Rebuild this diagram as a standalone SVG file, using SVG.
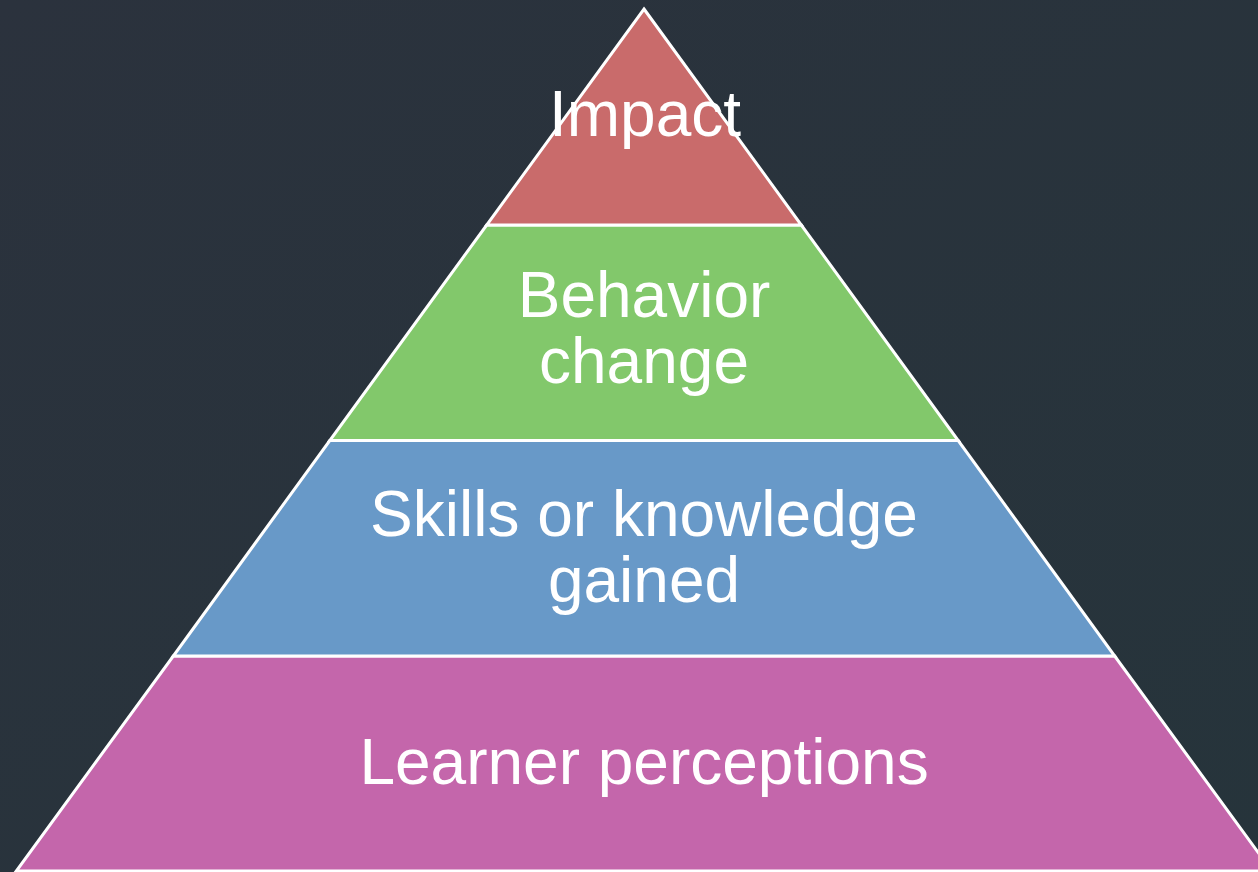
<svg xmlns="http://www.w3.org/2000/svg" width="1258" height="872" viewBox="0 0 1258 872">
  <defs>
    <linearGradient id="bg" x1="0" y1="0" x2="1" y2="1">
      <stop offset="0" stop-color="#2b323d"/>
      <stop offset="1" stop-color="#26343b"/>
    </linearGradient>
  </defs>
  <style>
    .layer { stroke: #ffffff; stroke-width: 3; stroke-linejoin: miter; }
    .lbl { font-family: "Liberation Sans", Arial, sans-serif; font-size: 64px; fill: #ffffff; text-anchor: middle; }
  </style>
  <rect x="0" y="0" width="1258" height="872" fill="url(#bg)"/>
  <g id="layer-learner">
    <polygon class="layer" fill="#c466ab" points="173.3,656 1114.7,656 1271.7,871 16.3,871"/>
    <text class="lbl" x="644" y="784">Learner perceptions</text>
  </g>
  <g id="layer-skills">
    <polygon class="layer" fill="#6899c8" points="329.8,440.5 958.2,440.5 1114.7,656 173.3,656"/>
    <text class="lbl" x="644" y="536">Skills or knowledge</text>
    <text class="lbl" x="644" y="602">gained</text>
  </g>
  <g id="layer-behavior">
    <polygon class="layer" fill="#82c86b" points="486.7,225 801.3,225 958.2,440.5 329.8,440.5"/>
    <text class="lbl" x="644" y="317">Behavior</text>
    <text class="lbl" x="644" y="383">change</text>
  </g>
  <g id="layer-impact">
    <polygon class="layer" fill="#c96b6b" points="644,9 801.3,225 486.7,225"/>
    <text class="lbl" x="645" y="136">Impact</text>
  </g>
  <g id="connectors"/>
</svg>
